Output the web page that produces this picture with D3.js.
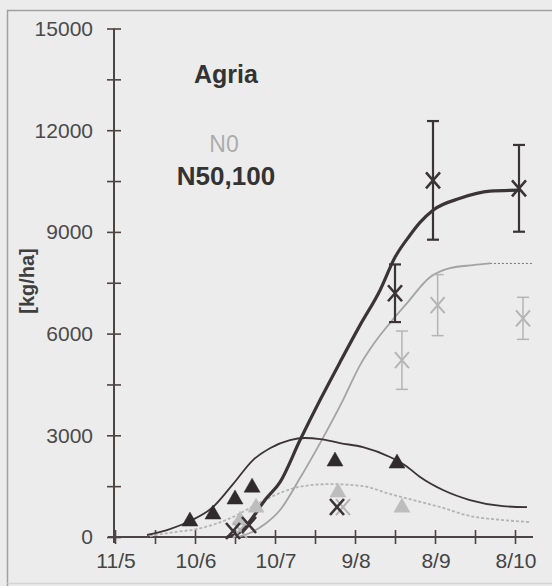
<!DOCTYPE html>
<html><head><meta charset="utf-8">
<script src="https://cdn.jsdelivr.net/npm/d3@7"></script>
<style>
html,body{margin:0;padding:0;background:#ececec;}
svg{display:block;font-family:"Liberation Sans",Arial,sans-serif;}
</style></head>
<body>
<svg id="chart" width="552" height="586"></svg>
<script>
// x = days after 11 May
const xTickDays = [0,15,30,45,60,75,90,105,120,135,150];
const xTickLabels = ["11/5","10/6","10/7","9/8","8/9","8/10"];
const xLabelDays = [0,30,60,90,120,150];
const yTicks = [0,1500,3000,4500,6000,7500,9000,10500,12000,13500,15000];
const yLabelTicks = [0,3000,6000,9000,12000,15000];

// simulated tuber yield, N50,100 (thick black)
const tuberN50Days = [42,46.9,51.75,56.25,61.9,69.4,76.9,84.4,91.9,99.4,105,110.6,114.4,119.25,129.4,140.6,151.9];
const tuberN50Vals = [0,147,590,1090,1620,2860,4040,5160,6250,7280,8250,8900,9280,9640,9990,10200,10230];
// simulated tuber yield, N0 (grey)
const tuberN0Days = [45.75,50.6,56.25,61.9,69.4,76.9,85.5,91.9,97.5,103.1,109.5,118.1,125.6,134.25,140.6];
const tuberN0Vals = [0,118,383,796,1740,2770,4040,5070,5750,6310,6900,7660,7930,8020,8070];
const tuberN0ExtDays = [140.6,156.4];
const tuberN0ExtVals = [8070,8070];
// simulated haulm, N50,100 (thin black)
const haulmN50Days = [12,19.5,28.1,36.75,44.25,51.75,58.1,65.6,71.25,76.9,84.4,93,103.1,108.75,114.4,123,133.1,145.5,154.5];
const haulmN50Vals = [59,206,470,884,1560,2270,2620,2860,2920,2890,2770,2650,2360,2120,1770,1385,1090,910,880];
// simulated haulm, N0 (grey dashed)
const haulmN0Days = [13.1,22.5,30.75,37.5,44.25,50.6,56.25,61.9,70.5,80.6,93,103.1,111.75,121.9,133.1,145.5,155.6];
const haulmN0Vals = [29,147,236,383,590,855,1090,1300,1500,1560,1500,1270,1090,885,620,500,440];

// observed haulm (triangles)
const obsHaulmN50Days = [28.1,36.75,45,51.4,82.5,105.75];
const obsHaulmN50Vals = [530,737,1180,1530,2300,2240];
const obsHaulmN0Days = [46.9,52.9,83.6,107.6];
const obsHaulmN0Vals = [560,940,1385,940];
// observed tubers (crosses) with error bars
const obsTuberN50Days = [44.25,50.25,83.25,105,119.25,151.5];
const obsTuberN50Vals = [177,354,885,7190,10520,10285];
const obsTuberN50Err = [0,0,0,850,1750,1280];
const obsTuberN0Days = [46.9,85.5,107.6,121,153];
const obsTuberN0Vals = [206,880,5215,6840,6450];
const obsTuberN0Err = [0,0,860,900,620];

const svg = d3.select("#chart");
const dark = "#3b3436", axisC = "#4d4446", grey = "#a3a3a3", lightGrey = "#b4b4b4";

// scanned page frame
svg.append("rect").attr("x",0).attr("y",0).attr("width",552).attr("height",586).attr("fill","#ececec");
svg.append("path").attr("d","M7.5,586V10.5H552").attr("fill","none").attr("stroke","#a0a0a0").attr("stroke-width",1.5);
svg.append("path").attr("d","M7.5,583.5H552").attr("fill","none").attr("stroke","#d4d4d4").attr("stroke-width",1.5);

const x = d3.scaleLinear().domain([0,150]).range([115,515]);
const y = d3.scaleLinear().domain([0,15000]).range([537,28.5]);

// axes
const yAxis = svg.append("g").attr("transform","translate(114,0)")
  .call(d3.axisLeft(y).tickValues(yTicks).tickSize(0).tickFormat(""));
yAxis.select(".domain").remove();
yAxis.append("line").attr("x1",0).attr("x2",0).attr("y1",y(15000)).attr("y2",543).attr("stroke",axisC).attr("stroke-width",2);
yAxis.selectAll(".tick line").attr("x1",-7).attr("x2",7).attr("stroke",axisC).attr("stroke-width",1.6);

const xAxis = svg.append("g").attr("transform","translate(0,537)")
  .call(d3.axisBottom(x).tickValues(xTickDays).tickSize(0).tickFormat(""));
xAxis.select(".domain").remove();
xAxis.append("line").attr("x1",108).attr("x2",533).attr("y1",0).attr("y2",0).attr("stroke",axisC).attr("stroke-width",2);
xAxis.selectAll(".tick line").attr("y1",-7).attr("y2",7).attr("stroke",axisC).attr("stroke-width",1.6);

svg.append("g").selectAll("text").data(yLabelTicks).join("text")
  .attr("x",93).attr("y",d=>y(d)).attr("dy","0.35em").attr("text-anchor","end")
  .attr("font-size",21).attr("fill","#4a4a4a").text(d=>d);
svg.append("g").selectAll("text").data(xLabelDays).join("text")
  .attr("x",d=>x(d)+1).attr("y",568).attr("text-anchor","middle")
  .attr("font-size",21).attr("fill","#444").text((d,i)=>xTickLabels[i]);

svg.append("text").attr("transform","translate(34,281) rotate(-90)")
  .attr("text-anchor","middle").attr("font-size",20).attr("font-weight","bold")
  .attr("fill","#3f3f3f").text("[kg/ha]");

// titles / legend
svg.append("text").attr("x",226).attr("y",83).attr("text-anchor","middle")
  .attr("font-size",25).attr("font-weight","bold").attr("fill","#333").text("Agria");
svg.append("text").attr("x",224).attr("y",152).attr("text-anchor","middle")
  .attr("font-size",23).attr("fill","#acacac").text("N0");
svg.append("text").attr("x",226).attr("y",185).attr("text-anchor","middle")
  .attr("font-size",26).attr("font-weight","bold").attr("fill","#333").text("N50,100");

const line = d3.line().x(d=>x(d[0])).y(d=>y(d[1])).curve(d3.curveMonotoneX);
const zip = (a,b)=>a.map((v,i)=>[v,b[i]]);

svg.append("path").attr("d",line(zip(haulmN0Days,haulmN0Vals))).attr("fill","none")
  .attr("stroke",lightGrey).attr("stroke-width",1.8).attr("stroke-dasharray","3,2");
svg.append("path").attr("d",line(zip(tuberN0Days,tuberN0Vals))).attr("fill","none")
  .attr("stroke",grey).attr("stroke-width",1.8);
svg.append("path").attr("d",line(zip(tuberN0ExtDays,tuberN0ExtVals))).attr("fill","none")
  .attr("stroke","#777").attr("stroke-width",1).attr("stroke-dasharray","2,2");
svg.append("path").attr("d",line(zip(haulmN50Days,haulmN50Vals))).attr("fill","none")
  .attr("stroke",dark).attr("stroke-width",1.8);
svg.append("path").attr("d",line(zip(tuberN50Days,tuberN50Vals))).attr("fill","none")
  .attr("stroke",dark).attr("stroke-width",3.2);

// error bars
function errBars(days, vals, errs, color, w){
  const g = svg.append("g").attr("stroke",color).attr("stroke-width",w).attr("fill","none");
  days.forEach((d,i)=>{
    if(!errs[i]) return;
    const cx = x(d), y1 = y(vals[i]+errs[i]), y2 = y(vals[i]-errs[i]);
    g.append("line").attr("x1",cx).attr("x2",cx).attr("y1",y1).attr("y2",y2);
    g.append("line").attr("x1",cx-6).attr("x2",cx+6).attr("y1",y1).attr("y2",y1);
    g.append("line").attr("x1",cx-6).attr("x2",cx+6).attr("y1",y2).attr("y2",y2);
  });
}
errBars(obsTuberN0Days, obsTuberN0Vals, obsTuberN0Err, lightGrey, 1.5);
errBars(obsTuberN50Days, obsTuberN50Vals, obsTuberN50Err, dark, 2.2);

const tri = "M0,-7L8,7L-8,7Z";
const cross = "M-7,-8L7,8M-7,8L7,-8";
function markers(days, vals, path, color, filled, w){
  svg.append("g").selectAll("path").data(days).join("path")
    .attr("transform",(d,i)=>`translate(${x(d)},${y(vals[i])})`)
    .attr("d",path)
    .attr("fill",filled?color:"none").attr("stroke",color).attr("stroke-width",w);
}
markers(obsHaulmN0Days, obsHaulmN0Vals, tri, "#bdbdbd", true, 0.5);
markers(obsTuberN0Days, obsTuberN0Vals, cross, lightGrey, false, 2);
markers(obsHaulmN50Days, obsHaulmN50Vals, tri, "#2f2a2b", true, 0.5);
markers(obsTuberN50Days, obsTuberN50Vals, cross, dark, false, 2.6);
</script>
</body></html>
